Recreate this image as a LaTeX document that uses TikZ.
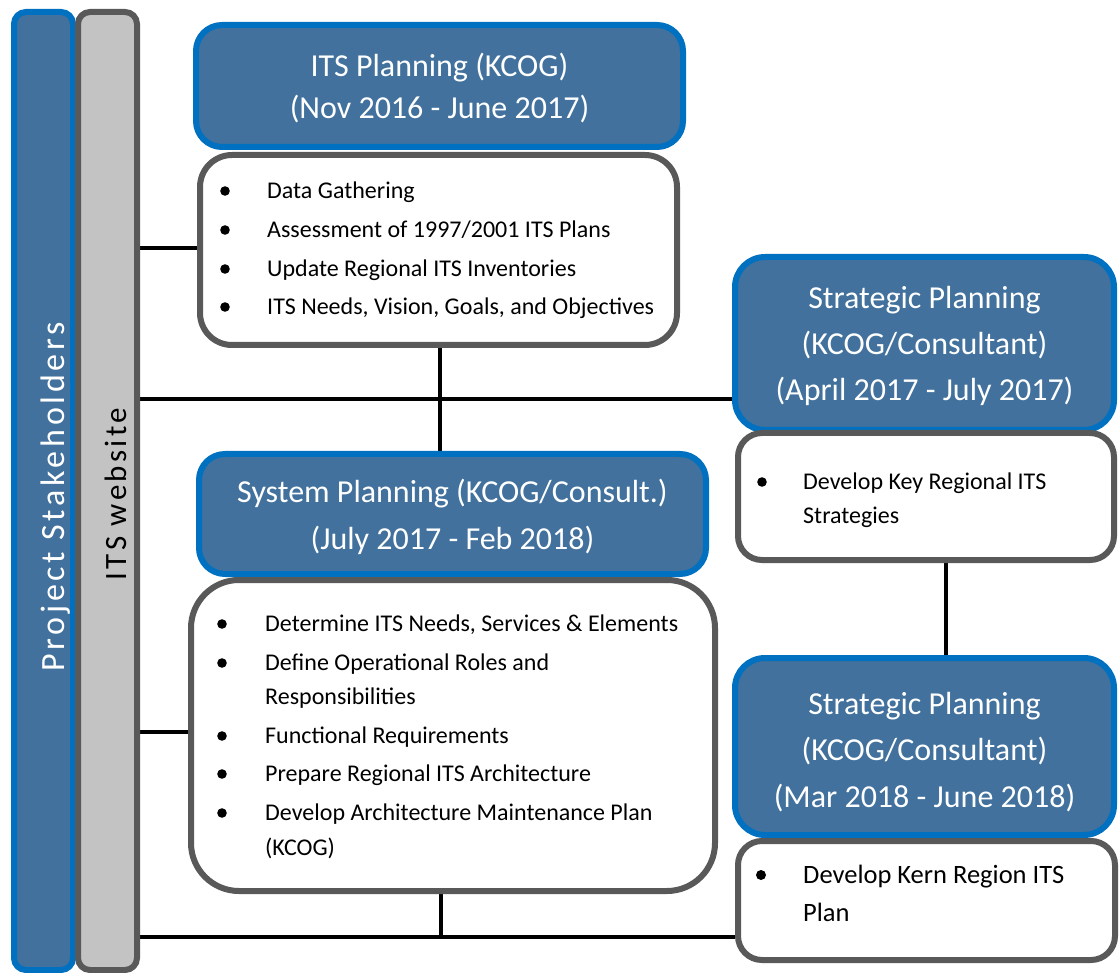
\documentclass[tikz,border=0pt]{standalone}
\usepackage{fontspec}
\setmainfont{Carlito}
\usetikzlibrary{backgrounds}
\definecolor{hdrfill}{RGB}{65,113,156}
\definecolor{hdrline}{RGB}{0,112,192}
\definecolor{boxline}{RGB}{89,89,89}
\definecolor{webfill}{RGB}{195,195,195}
\begin{document}
\begin{tikzpicture}[x=1pt,y=-1pt,
  hdr/.style={draw=hdrline, fill=hdrfill, line width=6pt, rounded corners=26pt, inner sep=0pt},
  hdrtext/.style={text=white, align=center, inner sep=0pt, yshift=-2.5pt},
  lbox/.style={draw=boxline, fill=white, line width=6pt, inner sep=0pt},
  item/.style={anchor=base west, inner sep=0pt, font=\fontsize{24}{24}\selectfont},
  bigitem/.style={anchor=base west, inner sep=0pt, font=\fontsize{26.5}{26.5}\selectfont},
  bul/.style={fill=black},
  conn/.style={line width=4.5pt, black},
  bar/.style={line width=6pt, rounded corners=12pt, inner sep=0pt, minimum width=59pt, minimum height=958pt}
]
\useasboundingbox (0,0) rectangle (1120,973);

% side bars
\node[bar, draw=hdrline, fill=hdrfill] (stake) at (43.5,491) {};
\node[bar, draw=boxline, fill=webfill] (web) at (107.5,491) {};
\node[rotate=90, anchor=base, text=white, inner sep=0pt,
  font=\fontsize{34}{34}\selectfont\addfontfeatures{LetterSpace=11}] (stakelbl) at (64.5,497) {Project Stakeholders};
\node[rotate=90, anchor=base, text=black, inner sep=0pt,
  font=\fontsize{31}{31}\selectfont\addfontfeatures{LetterSpace=11}] (weblbl) at (126,494) {ITS website};

% ITS Planning
\node[hdr, minimum width=487pt, minimum height=122pt,
  label={[hdrtext, font=\fontsize{32}{42}\selectfont]center:ITS Planning (KCOG)\\(Nov 2016 - June 2017)}] (h1) at (439.5,86) {};
\node[lbox, rounded corners=32pt, minimum width=477pt, minimum height=190pt] (b1) at (438.5,250) {};
\foreach \yy in {191,230,269,307}{ \fill[bul] (225,\yy) circle[radius=4.8pt]; }
\node[item] at (267,191+7.5) {Data Gathering};
\node[item] at (267,230+7.5) {Assessment of 1997/2001 ITS Plans};
\node[item] at (267,269+7.5) {Update Regional ITS Inventories};
\node[item] at (267,307+7.5) {ITS Needs, Vision, Goals, and Objectives};

% System Planning
\node[hdr, minimum width=507pt, minimum height=120pt,
  label={[hdrtext, font=\fontsize{32}{47}\selectfont]center:System Planning (KCOG/Consult.)\\(July 2017 - Feb 2018)}] (h2) at (452.5,514) {};
\node[lbox, rounded corners=48pt, minimum width=524pt, minimum height=311pt] (b2) at (453,735.5) {};
\foreach \yy in {624,663,736,774,813}{ \fill[bul] (222,\yy) circle[radius=4.8pt]; }
\node[item] at (265,624+7.5) {Determine ITS Needs, Services \& Elements};
\node[item] at (265,663+7.5) {Define Operational Roles and};
\node[item] at (265,697+7.5) {Responsibilities};
\node[item] at (265,736+7.5) {Functional Requirements};
\node[item] at (265,774+7.5) {Prepare Regional ITS Architecture};
\node[item] at (265,813+7.5) {Develop Architecture Maintenance Plan};
\node[item] at (265,848+7.5) {(KCOG)};

% Strategic Planning 1
\node[hdr, rounded corners=30pt, minimum width=379pt, minimum height=173pt,
  label={[hdrtext, font=\fontsize{32}{46}\selectfont]center:Strategic Planning\\(KCOG/Consultant)\\(April 2017 - July 2017)}] (h3) at (924.5,343.5) {};
\node[lbox, rounded corners=24pt, minimum width=376pt, minimum height=127pt] (b3) at (926,496.5) {};
\fill[bul] (762,482) circle[radius=4.8pt];
\node[item] at (803,482+7.5) {Develop Key Regional ITS};
\node[item] at (803,516+7.5) {Strategies};

% Strategic Planning 2
\node[hdr, rounded corners=30pt, minimum width=379pt, minimum height=177pt,
  label={[hdrtext, font=\fontsize{32}{46.5}\selectfont, yshift=-3pt]center:Strategic Planning\\(KCOG/Consultant)\\(Mar 2018 - June 2018)}] (h4) at (924.5,746.5) {};
\node[lbox, rounded corners=24pt, minimum width=377pt, minimum height=119pt] (b4) at (926.5,900.5) {};
\fill[bul] (761,875) circle[radius=5pt];
\node[bigitem] at (803,875+8.5) {Develop Kern Region ITS};
\node[bigitem] at (803,913+8.5) {Plan};

% connectors
\begin{scope}[on background layer]
\fill[white] (0,0) rectangle (1120,973);
\draw[conn] (web.east |- b1.west) ++(0,-2) -- ([yshift=2pt]b1.west);
\draw[conn] (web.east |- 0,399) -- (h3.west |- 0,399);
\draw[conn] ([xshift=1.5pt]b1.south) -- ([xshift=1.5pt]b1.south |- h2.north);
\draw[conn] (web.east |- 0,732) -- (b2.west |- 0,732);
\draw[conn] ([xshift=20pt]b3.south) -- ([xshift=20pt]b3.south |- h4.north);
\coordinate (bottomline) at (web.east |- 0,937);
\draw[conn] (bottomline) -- (b4.west |- bottomline);
\draw[conn] ([xshift=-12pt]b2.south) -- ([xshift=-12pt]b2.south |- bottomline);
\end{scope}
\end{tikzpicture}
\end{document}
